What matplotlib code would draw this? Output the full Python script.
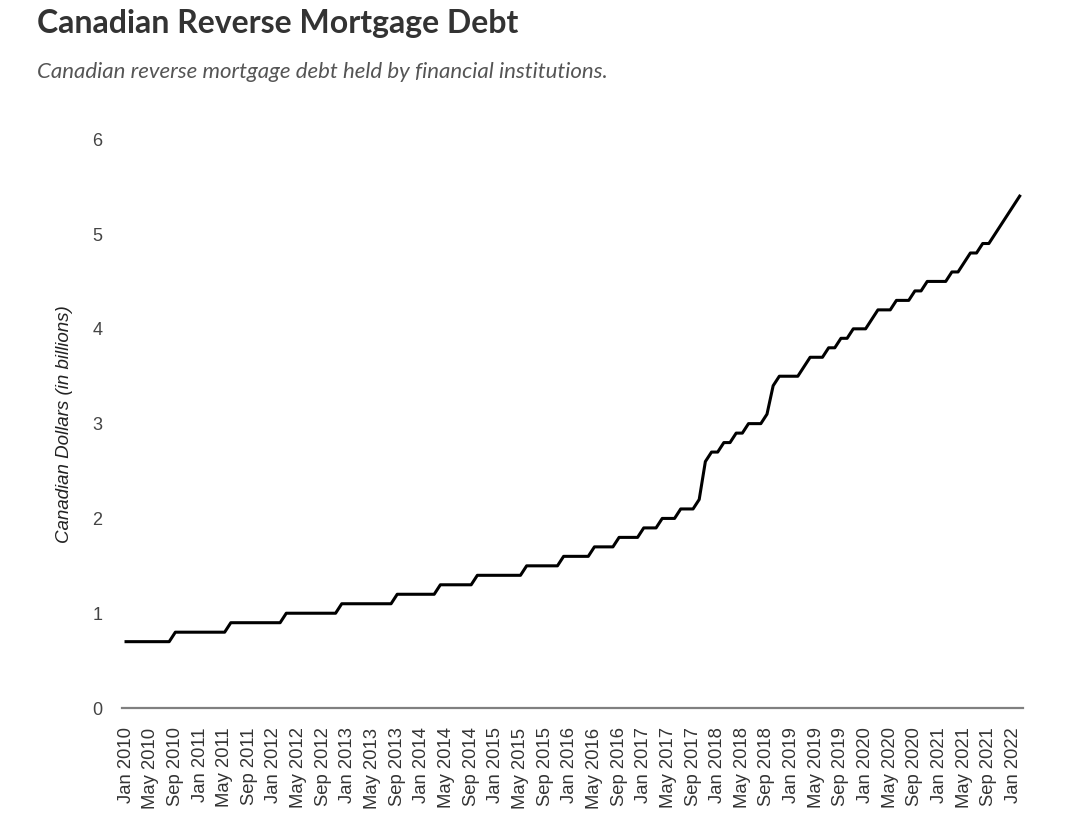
import matplotlib
matplotlib.use("Agg")
from matplotlib import pyplot as plt
import numpy as np
import pandas as pd

# monthly debt, billions CAD, Jan 2010 onward
levels = [0.7, 0.8, 0.9, 1.0, 1.1, 1.2, 1.3, 1.4, 1.5, 1.6, 1.7, 1.8, 1.9, 2.0, 2.1,
          2.2, 2.6, 2.7, 2.8, 2.9, 3.0, 3.1, 3.4, 3.5, 3.6, 3.7, 3.8, 3.9, 4.0, 4.1,
          4.2, 4.3, 4.4, 4.5, 4.6, 4.7, 4.8, 4.9, 5.0, 5.1, 5.2, 5.3, 5.4]
months_at_level = [8, 9, 9, 9, 9, 7, 6, 8, 6, 5, 4, 4, 3, 3, 3,
                   1, 1, 2, 2, 2, 3, 1, 1, 4, 1, 3, 2, 2, 3, 1,
                   3, 3, 2, 4, 2, 1, 2, 2, 1, 1, 1, 1, 1]
debt = np.repeat(levels, months_at_level)
dates = pd.date_range("2010-01-01", periods=len(debt), freq="MS")

fig = plt.figure(figsize=(10.8, 8.19), dpi=100, facecolor="white")
ax = fig.add_axes([0.113, 0.1355, 0.834, 0.6945])

x = np.arange(len(debt))
ax.plot(x, debt, color="black", lw=2.2, solid_joinstyle="round")

ax.set_xlim(-0.65, len(debt) - 0.5)
ax.set_ylim(0, 6)
ax.set_yticks(range(0, 7))
tick_idx = x[::4]
ax.set_xticks(tick_idx)
ax.set_xticklabels([dates[i].strftime("%b %Y") for i in tick_idx], rotation=90,
                   fontsize=13.3, color="#333333", family="Liberation Sans")
for t in ax.get_yticklabels():
    t.set_fontsize(13)
    t.set_color("#444444")
    t.set_family("Liberation Sans")
ax.tick_params(axis="both", length=0)
ax.tick_params(axis="x", pad=14)
ax.tick_params(axis="y", pad=14)

for s in ["top", "right", "left"]:
    ax.spines[s].set_visible(False)
ax.spines["bottom"].set_color("#808080")
ax.spines["bottom"].set_linewidth(1.6)

ax.set_ylabel("Canadian Dollars (in billions)", fontsize=13.5, style="italic",
              color="#222222", family="Liberation Sans", labelpad=14)

fig.text(37 / 1080, 1 - 24 / 819, "Canadian Reverse Mortgage Debt", fontsize=23,
         fontweight="bold", family="Lato", color="#333333", va="center")
fig.text(37 / 1080, 1 - 72 / 819, "Canadian reverse mortgage debt held by financial institutions.",
         fontsize=16, style="italic", family="Lato", color="#555555", va="center")

fig.savefig("out.png", dpi=100, facecolor="white")
